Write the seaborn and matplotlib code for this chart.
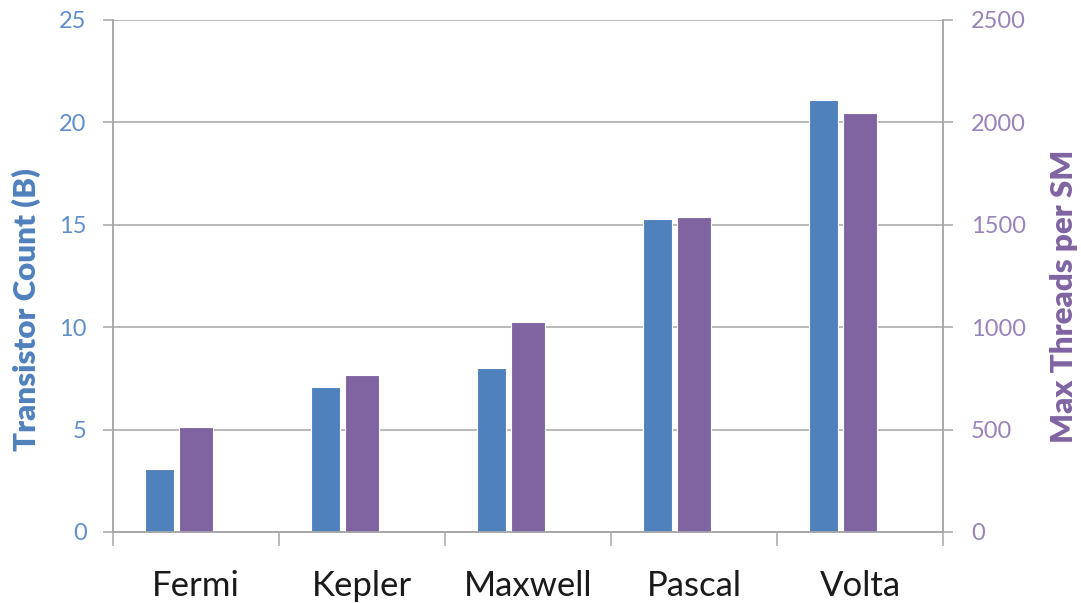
import numpy as np
import pandas as pd
import matplotlib
matplotlib.use("Agg")
import matplotlib.pyplot as plt
import seaborn as sns

# GPU architecture generations
architectures = ["Fermi", "Kepler", "Maxwell", "Pascal", "Volta"]
transistor_count_b = [3.1, 7.1, 8.0, 15.3, 21.1]
max_threads_per_sm = [512, 768, 1024, 1536, 2048]
left_ticks = [0, 5, 10, 15, 20, 25]
right_ticks = [0, 500, 1000, 1500, 2000, 2500]

BLUE = "#4F81BD"
PURPLE = "#8064A2"
BLUE_TICK = "#5F8FCA"
PURPLE_TICK = "#9883BA"
GRID = "#A6A6A6"

sns.set_theme(style="white")
plt.rcParams["font.family"] = ["Lato", "DejaVu Sans"]

W, H = 1081, 603
fig = plt.figure(figsize=(W / 100, H / 100), dpi=100)
ax = fig.add_axes([113 / W, 1 - 532 / H, (943 - 113) / W, 512 / H])
ax2 = ax.twinx()

pos = np.arange(len(architectures))
df = pd.DataFrame({"pos": pos, "transistors": transistor_count_b,
                   "threads": max_threads_per_sm})

# Transistor count bars sit left of centre, thread bars centred
sns.barplot(x=df["pos"] - 0.222, y=df["transistors"], native_scale=True,
            width=0.175, color=BLUE, saturation=1, edgecolor="white",
            linewidth=0.8, ax=ax)
sns.barplot(x=df["pos"], y=df["threads"], native_scale=True,
            width=0.2, color=PURPLE, saturation=1, edgecolor="white",
            linewidth=0.8, ax=ax2)

for a in (ax, ax2):
    a.set_xlim(-0.5, len(architectures) - 0.5)
    for s in a.spines.values():
        s.set_color(GRID)
        s.set_linewidth(1.1)
    a.spines["top"].set_visible(False)

ax.set_ylim(0, 25)
ax2.set_ylim(0, 2500)
ax.set_yticks(left_ticks)
ax2.set_yticks(right_ticks)
ax.set_axisbelow(True)
ax.yaxis.grid(True, color=GRID, linewidth=1.1)
ax.xaxis.grid(False)
ax2.grid(False)

# Category labels centred, tick marks on group boundaries
ax.set_xticks(pos)
ax.set_xticklabels(architectures)
ax.set_xticks(np.arange(len(architectures) + 1) - 0.5, minor=True)
ax.tick_params(axis="x", which="major", length=0, pad=27, labelsize=25,
               labelcolor="#1A1A1A")
ax.tick_params(axis="x", which="minor", length=10, width=1.1, color=GRID,
               direction="out", bottom=True)
ax2.tick_params(axis="x", which="both", length=0, labelbottom=False)

ax.tick_params(axis="y", length=7, width=1.1, color=GRID, direction="out",
               left=True, labelsize=17, labelcolor=BLUE_TICK, pad=12)
ax2.tick_params(axis="y", length=7, width=1.1, color=GRID, direction="out",
                right=True, labelsize=17, labelcolor=PURPLE_TICK, pad=13)

ax.set_xlabel("")
ax2.set_xlabel("")
ax.set_ylabel("Transistor Count (B)", fontsize=22.5, fontweight="heavy",
              color=BLUE, va="center", ha="center")
ax2.set_ylabel("Max Threads per SM", fontsize=22.5, fontweight="heavy",
               color=PURPLE, va="center", ha="center", rotation=90)
ax.yaxis.set_label_coords(-0.104, 0.434)
ax2.yaxis.set_label_coords(1.146, 0.461)

fig.savefig("out.png", dpi=100, facecolor="white")
